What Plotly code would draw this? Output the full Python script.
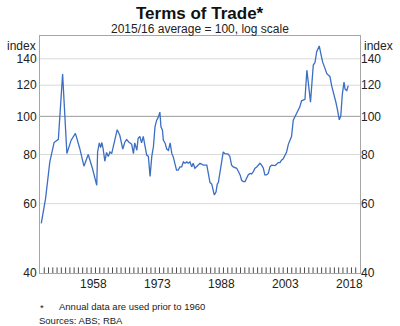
import math
import plotly.graph_objects as go

# Terms of trade index, 2015/16 average = 100
# Annual observations (financial years) before 1960
annual_years = [1946.3, 1947.3, 1948.3, 1949.3, 1950.3, 1951.3, 1952.3,
                1953.3, 1954.3, 1955.3, 1956.3, 1957.3, 1958.3, 1959.3]
annual_index = [53.5, 61.8, 76.6, 85.8, 87.4, 128.0, 80.5,
                87.0, 90.5, 83.0, 74.7, 80.0, 73.7, 66.8]

# Quarterly observations from 1959/60 onwards
quarter_years = [
    1959.5, 1959.9, 1960.2, 1960.5, 1960.8, 1961.2, 1961.6, 1962.0, 1962.4, 1962.8,
    1963.2, 1963.6, 1964.1, 1964.7, 1965.4, 1965.9, 1966.3, 1966.8, 1967.1, 1967.5,
    1967.9, 1968.2, 1968.7, 1969.0, 1969.4, 1969.8, 1970.2, 1970.6, 1971.0, 1971.4,
    1971.8, 1972.2, 1972.6, 1972.95, 1973.35, 1973.7, 1974.1, 1974.35, 1974.7, 1974.9,
    1975.3, 1975.7, 1976.1, 1976.5, 1976.9, 1977.2, 1977.6, 1978.0, 1978.4, 1978.8,
    1979.2, 1979.6, 1980.0, 1980.4, 1980.75, 1981.15, 1981.55, 1981.9, 1982.3, 1982.7,
    1983.1, 1983.5, 1984.3, 1985.1, 1985.45, 1985.85, 1986.25, 1986.6, 1986.85, 1987.25,
    1987.55, 1987.8, 1988.2, 1988.6, 1988.95, 1989.35, 1990.1, 1990.5, 1990.9, 1991.3,
    1992.1, 1992.5, 1992.9, 1993.25, 1993.65, 1994.05, 1994.45, 1994.8, 1995.2, 1995.6,
    1996.0, 1996.4, 1996.8, 1997.2, 1997.55, 1997.95, 1998.35, 1998.7, 1999.1, 1999.5,
    1999.9, 2000.3, 2000.7, 2001.1, 2001.45, 2001.85, 2002.25, 2002.6, 2003.0, 2003.4,
    2003.8, 2004.2, 2004.6, 2004.95, 2005.2, 2005.35, 2005.75, 2006.15, 2006.55, 2006.9,
    2007.3, 2007.7, 2008.1, 2008.55, 2008.9, 2009.4, 2010.05, 2010.45, 2010.85, 2011.45,
    2011.85, 2012.25, 2012.8, 2013.2, 2013.55, 2013.95, 2014.35, 2014.9, 2015.35, 2015.7,
    2016.15, 2016.5, 2016.85, 2017.25, 2017.5, 2017.9, 2018.25,
]
quarter_index = [
    81.2, 85.6, 83.3, 85.8, 82.7, 76.9, 81.0, 79.1, 81.2, 80.4,
    84.0, 87.6, 92.5, 89.5, 82.6, 86.1, 87.3, 86.1, 85.5, 84.9,
    80.4, 85.6, 82.0, 88.0, 88.9, 85.6, 88.9, 84.9, 79.7, 79.1,
    70.4, 79.1, 84.0, 94.1, 97.8, 99.4, 102.5, 94.1, 92.2, 87.0,
    85.6, 82.6, 82.0, 85.6, 80.4, 79.1, 75.2, 73.0, 73.0, 74.4,
    74.4, 76.6, 76.0, 76.6, 76.0, 76.6, 74.4, 76.0, 73.8, 74.4,
    75.2, 76.0, 75.2, 75.2, 71.6, 67.9, 67.3, 64.2, 63.2, 64.2,
    67.3, 67.9, 72.4, 77.4, 81.2, 80.4, 80.2, 79.1, 75.2, 74.4,
    73.8, 72.4, 71.0, 68.8, 68.3, 68.3, 69.6, 71.0, 71.6, 71.4,
    72.4, 73.8, 74.4, 75.2, 76.0, 75.2, 73.8, 71.0, 71.0, 71.6,
    74.4, 75.2, 75.2, 75.0, 75.6, 76.3, 76.3, 77.4, 78.0, 79.7,
    81.2, 84.9, 87.0, 88.9, 94.1, 97.8, 99.8, 101.8, 103.7, 105.7,
    109.5, 110.0, 110.5, 131.0, 120.0, 108.7, 135.0, 137.0, 146.0, 151.0,
    143.6, 137.3, 132.4, 128.5, 127.4, 126.3, 119.7, 114.1, 108.6, 104.2,
    98.0, 100.3, 113.6, 122.2, 117.2, 116.3, 119.7,
]

x_range = [1946, 2021]
y_range = [40, 160]
y_ticks = [40, 60, 80, 100, 120, 140]
year_labels = ["1958", "1973", "1988", "2003", "2018"]
tick_years = list(range(x_range[0] + 1, x_range[1]))

FONT = "Liberation Sans, Arial, sans-serif"
TEXT = "#222222"
LINE_BLUE = "#3c6ec4"
GRID = "#d9d9d9"
FRAME = "#a6a6a6"
TICK = "#4d4d4d"

years = annual_years + quarter_years
index = annual_index + quarter_index

fig = go.Figure()
fig.add_trace(go.Scatter(
    x=years, y=index, mode="lines",
    line=dict(color=LINE_BLUE, width=1.3),
    hoverinfo="skip", showlegend=False,
))
# Same series on the right-hand axis (transparent) so that axis gets drawn
fig.add_trace(go.Scatter(
    x=years, y=index, mode="lines", yaxis="y2",
    line=dict(color="rgba(0,0,0,0)", width=0),
    hoverinfo="skip", showlegend=False,
))
# Yearly tick marks on the bottom axis: vertical dashes centred on the axis,
# clipped to the plot area so only the upper half shows
fig.add_trace(go.Scatter(
    x=tick_years, y=[y_range[0]] * len(tick_years), mode="markers",
    marker=dict(symbol="line-ns", size=8, color=TICK,
                line=dict(width=1, color=TICK)),
    cliponaxis=True, hoverinfo="skip", showlegend=False,
))

log_range = [math.log10(y_range[0]), math.log10(y_range[1])]
yaxis_common = dict(
    type="log", range=log_range, tickmode="array", tickvals=y_ticks,
    ticktext=[str(v) for v in y_ticks], ticks="", showgrid=False,
    zeroline=False, tickfont=dict(family=FONT, size=12, color=TEXT),
    fixedrange=True,
)

fig.update_layout(
    width=400, height=326,
    margin=dict(l=40, r=40, t=36, b=53),
    paper_bgcolor="white", plot_bgcolor="white",
    font=dict(family=FONT, color=TEXT),
    # year labels centred on each labelled year
    xaxis=dict(
        range=x_range, tickmode="array",
        tickvals=[int(y) + 0.5 for y in year_labels], ticktext=year_labels,
        ticks="", showgrid=False, zeroline=False,
        showline=True, linecolor=FRAME, linewidth=1, mirror=True,
        tickfont=dict(family=FONT, size=12, color=TEXT), fixedrange=True,
    ),
    yaxis=dict(**yaxis_common, side="left",
               showline=True, linecolor=FRAME, linewidth=1, mirror=True),
    yaxis2=dict(**yaxis_common, side="right", overlaying="y", showline=False),
)

# Horizontal grid lines, with a darker line at the base value of 100
for v in y_ticks[1:]:
    fig.add_shape(type="line", xref="paper", x0=0, x1=1, yref="y", y0=v, y1=v,
                  line=dict(color="#9a9a9a" if v == 100 else GRID, width=1),
                  layer="below")

fig.add_annotation(text="<b>Terms of Trade*</b>", xref="paper", yref="paper",
                   x=0.5, y=1, yshift=34, xanchor="center", yanchor="top",
                   showarrow=False, font=dict(family=FONT, size=17, color="#111111"))
fig.add_annotation(text="2015/16 average = 100, log scale", xref="paper", yref="paper",
                   x=0.5, y=1, yshift=16, xanchor="center", yanchor="top",
                   showarrow=False, font=dict(family=FONT, size=12, color=TEXT))
for side_x, anchor in [(0, "right"), (1, "left")]:
    fig.add_annotation(text="index", xref="paper", yref="paper", x=side_x, y=1,
                       xshift=-2 if anchor == "right" else 2, yshift=-1,
                       xanchor=anchor, yanchor="top", showarrow=False,
                       font=dict(family=FONT, size=12, color=TEXT))

fig.add_annotation(text="*", xref="paper", yref="paper", x=0, y=0, xshift=-2,
                   yshift=-27, xanchor="left", yanchor="top", showarrow=False,
                   font=dict(family=FONT, size=9.5, color=TEXT))
fig.add_annotation(text="Annual data are used prior to 1960", xref="paper", yref="paper",
                   x=0, y=0, xshift=17, yshift=-26, xanchor="left", yanchor="top",
                   showarrow=False, font=dict(family=FONT, size=9.5, color=TEXT))
fig.add_annotation(text="Sources: ABS; RBA", xref="paper", yref="paper",
                   x=0, y=0, xshift=-3, yshift=-40, xanchor="left", yanchor="top",
                   showarrow=False, font=dict(family=FONT, size=9.5, color=TEXT))

fig.write_html("out.html")
